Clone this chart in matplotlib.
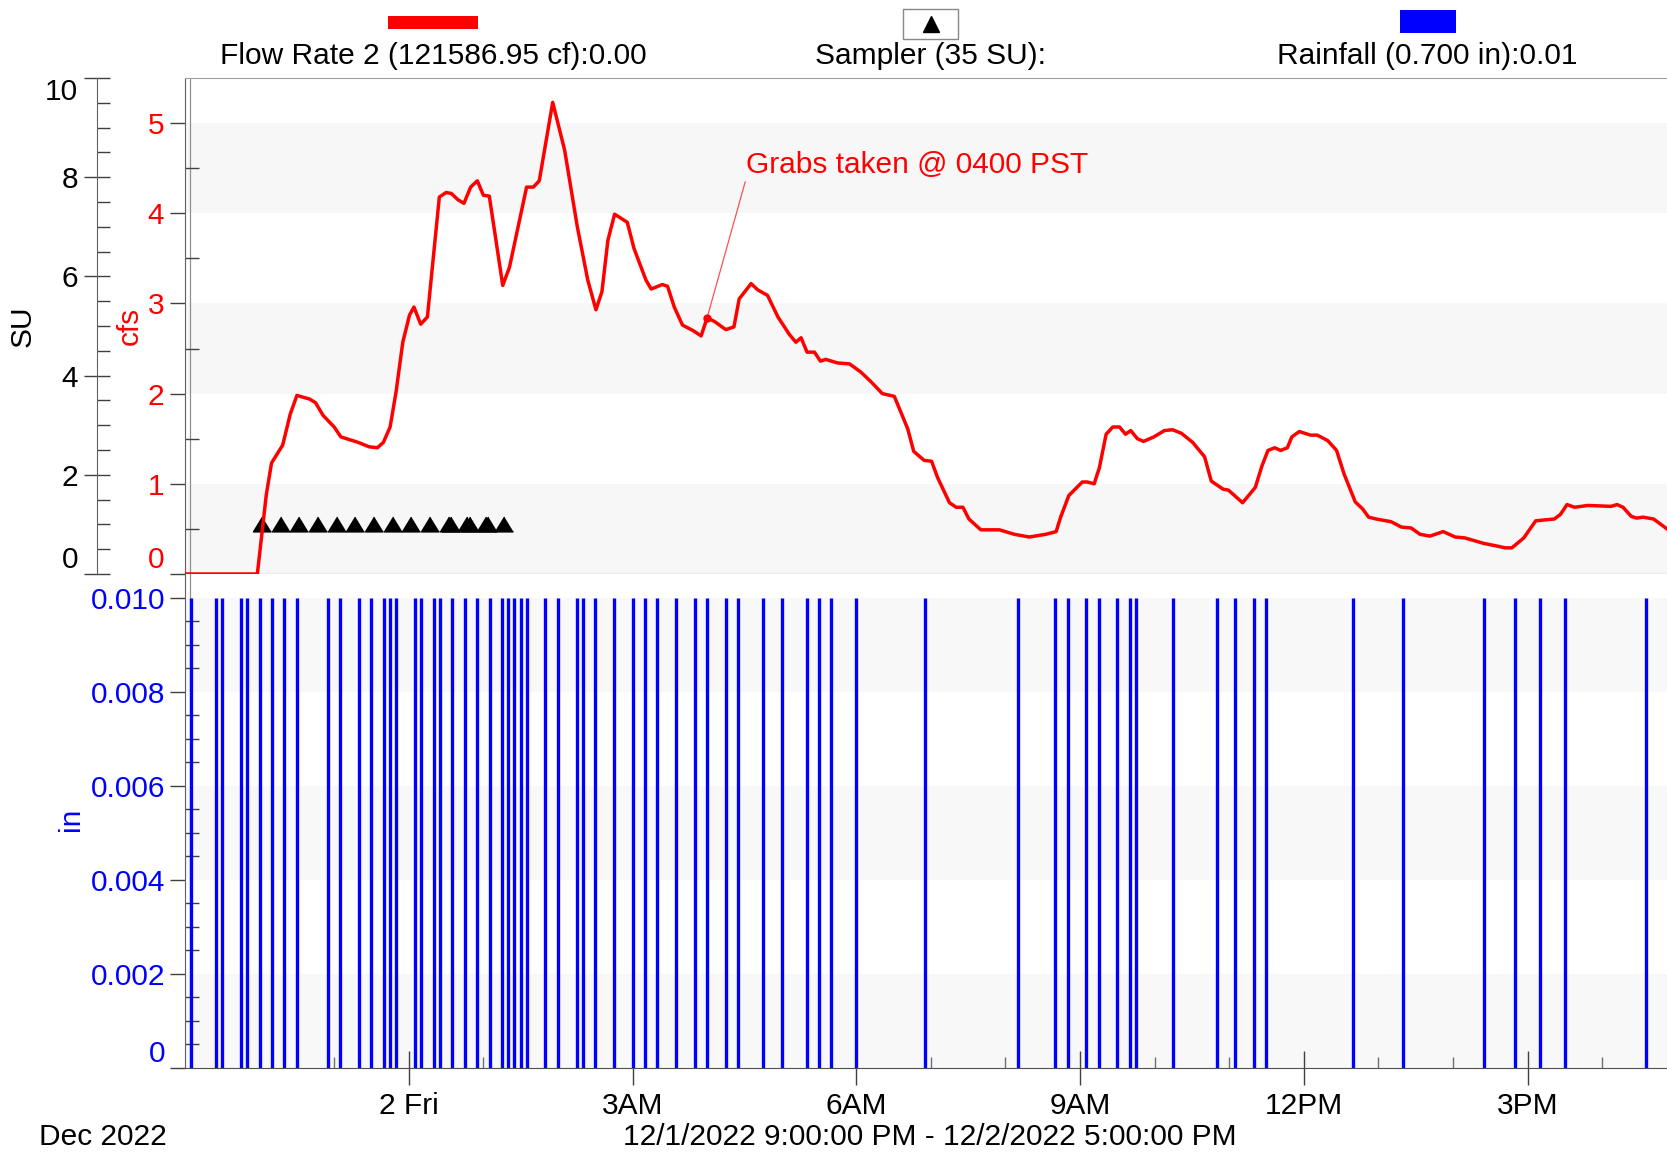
import numpy as np
import matplotlib.pyplot as plt
from matplotlib.patches import Rectangle
from matplotlib.lines import Line2D

plt.rcParams['font.family'] = ['Liberation Sans', 'DejaVu Sans']

# Flow Rate 2 (cfs), hours after 12/1/2022 9:00 PM
flow_hours = [0.00, 0.97, 1.09, 1.16, 1.31, 1.41, 1.50, 1.67, 1.75, 1.85, 2.00, 2.09, 2.32, 2.47,
              2.58, 2.66, 2.75, 2.83, 2.92, 3.01, 3.07, 3.16, 3.25, 3.41, 3.50, 3.57, 3.66, 3.74,
              3.83, 3.92, 4.00, 4.08, 4.26, 4.35, 4.58, 4.67, 4.75, 4.93, 5.09, 5.26, 5.40, 5.51,
              5.59, 5.67, 5.76, 5.93, 6.02, 6.18, 6.25, 6.40, 6.47, 6.56, 6.67, 6.81, 6.92, 7.00,
              7.10, 7.25, 7.36, 7.43, 7.59, 7.68, 7.81, 7.95, 8.10, 8.19, 8.26, 8.34, 8.44, 8.52,
              8.59, 8.75, 8.91, 9.06, 9.20, 9.35, 9.51, 9.69, 9.77, 9.91, 10.01, 10.09, 10.25,
              10.34, 10.43, 10.51, 10.67, 10.92, 11.12, 11.32, 11.54, 11.68, 11.74, 11.85, 12.03,
              12.10, 12.19, 12.26, 12.35, 12.44, 12.53, 12.61, 12.68, 12.77, 12.85, 12.99, 13.13,
              13.24, 13.36, 13.51, 13.67, 13.76, 13.92, 13.99, 14.18, 14.35, 14.44, 14.52, 14.61,
              14.69, 14.78, 14.84, 14.94, 15.09, 15.18, 15.32, 15.44, 15.54, 15.69, 15.79, 15.87,
              15.97, 16.17, 16.31, 16.44, 16.56, 16.69, 16.87, 17.03, 17.16, 17.41, 17.59, 17.70,
              17.79, 17.95, 18.11, 18.36, 18.44, 18.53, 18.63, 18.81, 19.12, 19.20, 19.28, 19.39,
              19.46, 19.55, 19.69, 19.87]
flow_cfs = [0.00, 0.00, 0.88, 1.23, 1.43, 1.77, 1.98, 1.94, 1.90, 1.76, 1.63, 1.52, 1.46, 1.41,
            1.40, 1.46, 1.63, 2.02, 2.57, 2.87, 2.96, 2.77, 2.85, 4.18, 4.23, 4.22, 4.15, 4.11,
            4.29, 4.36, 4.20, 4.19, 3.20, 3.40, 4.29, 4.29, 4.36, 5.23, 4.70, 3.85, 3.26, 2.93,
            3.13, 3.70, 3.99, 3.90, 3.61, 3.26, 3.16, 3.21, 3.19, 2.96, 2.76, 2.70, 2.64, 2.84,
            2.80, 2.71, 2.74, 3.05, 3.22, 3.15, 3.09, 2.85, 2.66, 2.57, 2.62, 2.46, 2.46, 2.36,
            2.38, 2.34, 2.33, 2.24, 2.13, 2.00, 1.97, 1.61, 1.36, 1.26, 1.25, 1.07, 0.79,
            0.74, 0.74, 0.61, 0.49, 0.49, 0.44, 0.41, 0.44, 0.47, 0.63, 0.87, 1.02,
            1.02, 1.00, 1.18, 1.55, 1.63, 1.63, 1.55, 1.59, 1.50, 1.47, 1.52, 1.59,
            1.60, 1.56, 1.46, 1.30, 1.03, 0.94, 0.93, 0.79, 0.96, 1.20, 1.37, 1.40,
            1.37, 1.40, 1.52, 1.58, 1.54, 1.54, 1.48, 1.37, 1.11, 0.80, 0.72, 0.63,
            0.61, 0.58, 0.52, 0.51, 0.44, 0.42, 0.47, 0.41, 0.40, 0.34, 0.31, 0.29,
            0.29, 0.40, 0.59, 0.61, 0.66, 0.77, 0.74, 0.76, 0.75, 0.77, 0.74, 0.64,
            0.62, 0.63, 0.61, 0.50]

# Sampler events (minutes after 9:00 PM) and their SU value
sampler_minutes = [62, 77, 92, 107, 122, 137, 152, 167, 182, 197, 212, 214, 227, 229, 242, 244, 257]
sampler_su = [1, 1, 1, 1, 1, 1, 1, 1, 1, 1, 1, 1, 1, 1, 1, 1, 1]

# Rainfall tips of 0.01 in (minutes after 9:00 PM)
rain_minutes = [5, 25, 30, 45, 50, 60, 70, 80, 90, 115, 125, 140, 150, 160, 165, 170, 185, 190,
                200, 205, 215, 225, 235, 245, 255, 260, 265, 270, 275, 290, 300, 315, 320, 330,
                345, 360, 370, 380, 395, 410, 420, 435, 445, 465, 480, 500, 510, 520, 540, 595,
                670, 700, 710, 725, 735, 750, 760, 765, 795, 830, 845, 860, 870, 940, 980, 1045,
                1070, 1090, 1110, 1175]
rain_tip = 0.01

xtick_hours = [3, 6, 9, 12, 15, 18]
xtick_labels = ['2 Fri', '3AM', '6AM', '9AM', '12PM', '3PM']
cfs_ticks = [0, 1, 2, 3, 4, 5]
su_ticks = [0, 2, 4, 6, 8, 10]
in_ticks = [0, 0.002, 0.004, 0.006, 0.008, 0.010]
in_labels = ['0', '0.002', '0.004', '0.006', '0.008', '0.010']

grab_hour = 7.0  # 4:00 AM

RED = '#ff0000'
BLUE = '#0000ff'
TICK = '#404040'
FS = 21.5

W, H = 1667, 1155
fig = plt.figure(figsize=(W / 100, H / 100), dpi=100)


def fx(px):
    return px / W


def fy(py):
    return 1 - py / H


ax = fig.add_axes([fx(185), fy(574), fx(1667) - fx(185), fy(78) - fy(574)])
axb = fig.add_axes([fx(185), fy(1068), fx(1667) - fx(185), fy(574) - fy(1068)], sharex=ax)
ax_su = ax.twinx()

# bandes grises
for lo in [0, 2, 4]:
    ax.axhspan(lo, lo + 1, color='#f7f7f7', lw=0, zorder=0)
for lo in [0, 0.004, 0.008]:
    axb.axhspan(lo, lo + 0.002, color='#f8f8f8', lw=0, zorder=0)

# courbe débit
ax.plot(flow_hours, flow_cfs, color=RED, lw=2.5, zorder=3, solid_joinstyle='round')

# échantillons (axe SU)
tri = [(0, 0.82), (-1, -0.82), (1, -0.82)]
ax.plot(np.array(sampler_minutes) / 60, sampler_su, ls='none', marker=tri, ms=13,
        color='black', zorder=2, transform=ax_su.transData)

# annotation
grab_cfs = np.interp(grab_hour, flow_hours, flow_cfs)
ax.plot([grab_hour], [grab_cfs], 'o', color=RED, ms=5, zorder=4)
ax.annotate('Grabs taken @ 0400 PST', xy=(grab_hour, grab_cfs), xytext=(746, H - 165),
            textcoords='figure pixels', ha='left', va='center', color=RED, fontsize=FS,
            arrowprops=dict(arrowstyle='-', color='#ff5050', lw=0.9, shrinkA=0, shrinkB=0,
                            relpos=(0.0, 0.0)))

# pluie
axb.vlines(np.array(rain_minutes) / 60, 0, rain_tip, color=BLUE, lw=2.4, zorder=3)

# double trait à gauche
for a in (ax, axb):
    a.axvline(0.065, color='#909090', lw=0.9, zorder=1)

ax.set_xlim(0, 19.87)
ax.set_ylim(0, 5.5)
ax_su.set_ylim(0, 10)
axb.set_ylim(0, 0.0105)

# axe cfs
ax.set_yticks(cfs_ticks)
ax.set_yticklabels([str(t) for t in cfs_ticks])
ax.set_yticks(np.arange(0.5, 5.5, 1.0), minor=True)
ax.tick_params(axis='y', which='major', direction='out', length=11, width=1, color=TICK,
               labelcolor=RED, labelsize=FS, pad=4)
ax.tick_params(axis='y', which='minor', direction='in', length=10, width=1, color=TICK)
ax.tick_params(axis='x', which='both', bottom=False, labelbottom=False)

# axe SU
ax_su.yaxis.set_ticks_position('left')
ax_su.yaxis.set_label_position('left')
ax_su.spines['left'].set_position(('axes', -88 / 1482))
ax_su.set_yticks(su_ticks)
ax_su.set_yticklabels([str(t) for t in su_ticks])
ax_su.set_yticks(np.arange(0, 10.01, 0.5), minor=True)
ax_su.tick_params(axis='y', which='major', direction='inout', length=19, width=1, color=TICK,
                  labelcolor='black', labelsize=FS, pad=4)
ax_su.tick_params(axis='y', which='minor', direction='in', length=9.5, width=1, color=TICK)
for s in ['right', 'top', 'bottom']:
    ax_su.spines[s].set_visible(False)
ax_su.spines['left'].set_color('#606060')

# axe pluie
axb.set_yticks(in_ticks)
axb.set_yticklabels(in_labels)
axb.set_yticks(np.arange(0.0005, 0.0105, 0.0005), minor=True)
axb.tick_params(axis='y', which='major', direction='out', length=11, width=1, color=TICK,
                labelcolor=BLUE, labelsize=FS, pad=3)
axb.tick_params(axis='y', which='minor', direction='in', length=10, width=1, color=TICK)

# axe temps
axb.set_xticks(xtick_hours)
axb.set_xticklabels(xtick_labels)
axb.set_xticks(np.arange(1, 20, 1), minor=True)
axb.tick_params(axis='x', which='major', direction='inout', length=24, width=1, color=TICK,
                labelsize=FS, pad=5)
axb.tick_params(axis='x', which='minor', direction='in', length=8, width=1, color='#707070')

# étiquettes aux extrémités
ax.yaxis.get_major_ticks()[0].label1.set_va('bottom')
ax_su.yaxis.get_major_ticks()[0].label1.set_va('bottom')
ax_su.yaxis.get_major_ticks()[-1].label1.set_va('top')
axb.yaxis.get_major_ticks()[0].label1.set_va('bottom')

for a in (ax, axb):
    a.spines['right'].set_visible(False)
    a.spines['left'].set_color('#606060')
    a.spines['bottom'].set_color('#505050')
ax.spines['top'].set_color('#a0a0a0')
axb.spines['top'].set_visible(False)

# titres d'axes
fig.text(fx(23), fy(326), 'SU', rotation=90, ha='center', va='center', fontsize=FS)
fig.text(fx(130), fy(326), 'cfs', rotation=90, ha='center', va='center', fontsize=FS, color=RED)
fig.text(fx(71), fy(819), 'in', rotation=90, ha='center', va='center', fontsize=FS, color=BLUE)

# légende en haut
fig.add_artist(Rectangle((fx(388), fy(29)), fx(478) - fx(388), fy(16) - fy(29),
                         transform=fig.transFigure, color=RED, lw=0))
fig.add_artist(Rectangle((fx(903), fy(39)), fx(958) - fx(903), fy(9) - fy(39),
                         transform=fig.transFigure, facecolor='white', edgecolor='#888888', lw=1))
fig.add_artist(Line2D([fx(930.5)], [fy(24)], transform=fig.transFigure, marker='^', ms=12,
                      color='black', ls='none'))
fig.add_artist(Rectangle((fx(1400), fy(33)), fx(1456) - fx(1400), fy(10) - fy(33),
                         transform=fig.transFigure, color=BLUE, lw=0))
fig.text(fx(433), fy(56), 'Flow Rate 2 (121586.95 cf):0.00', ha='center', va='center', fontsize=FS)
fig.text(fx(930), fy(56), 'Sampler (35 SU):', ha='center', va='center', fontsize=FS)
fig.text(fx(1427), fy(56), 'Rainfall (0.700 in):0.01', ha='center', va='center', fontsize=FS)

# bas
fig.text(fx(103), fy(1137), 'Dec 2022', ha='center', va='center', fontsize=FS)
fig.text(fx(930), fy(1137), '12/1/2022 9:00:00 PM - 12/2/2022 5:00:00 PM', ha='center',
         va='center', fontsize=FS)

fig.savefig('out.png', dpi=100, facecolor='white')
